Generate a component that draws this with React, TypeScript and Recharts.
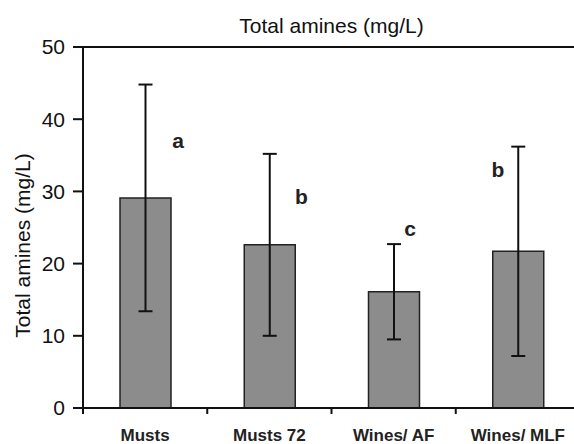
import { BarChart, Bar, XAxis, YAxis, ErrorBar, ReferenceLine, ReferenceDot } from "recharts";

const CATEGORIES = ["Musts", "Musts 72", "Wines/ AF", "Wines/ MLF"];
const MEANS = [29.1, 22.6, 16.1, 21.7];
const SD = [15.7, 12.6, 6.6, 14.5];
const LETTERS = ["a", "b", "c", "b"];
const LETTER_Y = [36.0, 28.25, 23.8, 32.0];
const Y_TICKS = [0, 10, 20, 30, 40, 50];
const TITLE = "Total amines (mg/L)";

const FONT = "Arial, 'Liberation Sans', sans-serif";
const LETTER_DX = [33, 32, 16.5, -20];

const data = CATEGORIES.map((name, i) => ({ name, mean: MEANS[i], sd: SD[i] }));

function XTick(props: any) {
  const { x, y, payload, index } = props;
  const half = payload?.offset ?? 62;
  return (
    <g>
      {index === 0 && <line x1={x - half} x2={x - half} y1={y} y2={y + 6} stroke="#111" strokeWidth={2} />}
      <line x1={x + half} x2={x + half} y1={y} y2={y + 6} stroke="#111" strokeWidth={2} />
      <text x={x} y={y + 33} textAnchor="middle" fontSize={17} fontWeight="bold" fill="#222" fontFamily={FONT}>
        {payload.value}
      </text>
    </g>
  );
}

function YLabel(props: any) {
  const vb = props.viewBox || { x: 0, y: 47, width: 83, height: 361 };
  const cx = vb.x + 22;
  const cy = vb.y + vb.height / 2 + 18;
  return (
    <text x={cx} y={cy} transform={`rotate(-90, ${cx}, ${cy})`} textAnchor="middle" dominantBaseline="central"
      fontSize={21} fill="#111" fontFamily={FONT}>
      {TITLE}
    </text>
  );
}

export default function App() {
  return (
    <div style={{ position: "fixed", left: 0, top: 0, width: 574, height: 444, overflow: "hidden", background: "#fff" }}>
      <BarChart width={580} height={444} data={data} margin={{ top: 47, right: 0, left: 0, bottom: 0 }}>
        <XAxis dataKey="name" interval={0} height={36} tickSize={0} tickMargin={0} tickLine={false}
          axisLine={{ stroke: "#111", strokeWidth: 2 }} tick={<XTick />} />
        <YAxis domain={[0, 50]} ticks={Y_TICKS} width={83} tickSize={10} tickMargin={8}
          axisLine={{ stroke: "#111", strokeWidth: 2 }} tickLine={{ stroke: "#111", strokeWidth: 2 }}
          tick={{ fontSize: 21, fill: "#111", fontFamily: FONT }} label={<YLabel />} />
        <ReferenceLine y={50} stroke="#111" strokeWidth={2}
          label={{ value: TITLE, position: "top", offset: 14, fill: "#111", fontSize: 21, fontFamily: FONT }} />
        <Bar dataKey="mean" barSize={51} fill="#8c8c8c" stroke="#222" strokeWidth={1.5} isAnimationActive={false}>
          <ErrorBar dataKey="sd" width={7} stroke="#111" strokeWidth={2} direction="y" />
        </Bar>
        {LETTERS.map((l, i) => (
          <ReferenceDot key={i} x={CATEGORIES[i]} y={LETTER_Y[i]} r={0}
            shape={(p: any) => (
              <text x={p.cx + LETTER_DX[i]} y={p.cy} textAnchor="middle" fontSize={21} fontWeight="bold"
                fill="#222" fontFamily={FONT}>{l}</text>
            )} />
        ))}
      </BarChart>
    </div>
  );
}
